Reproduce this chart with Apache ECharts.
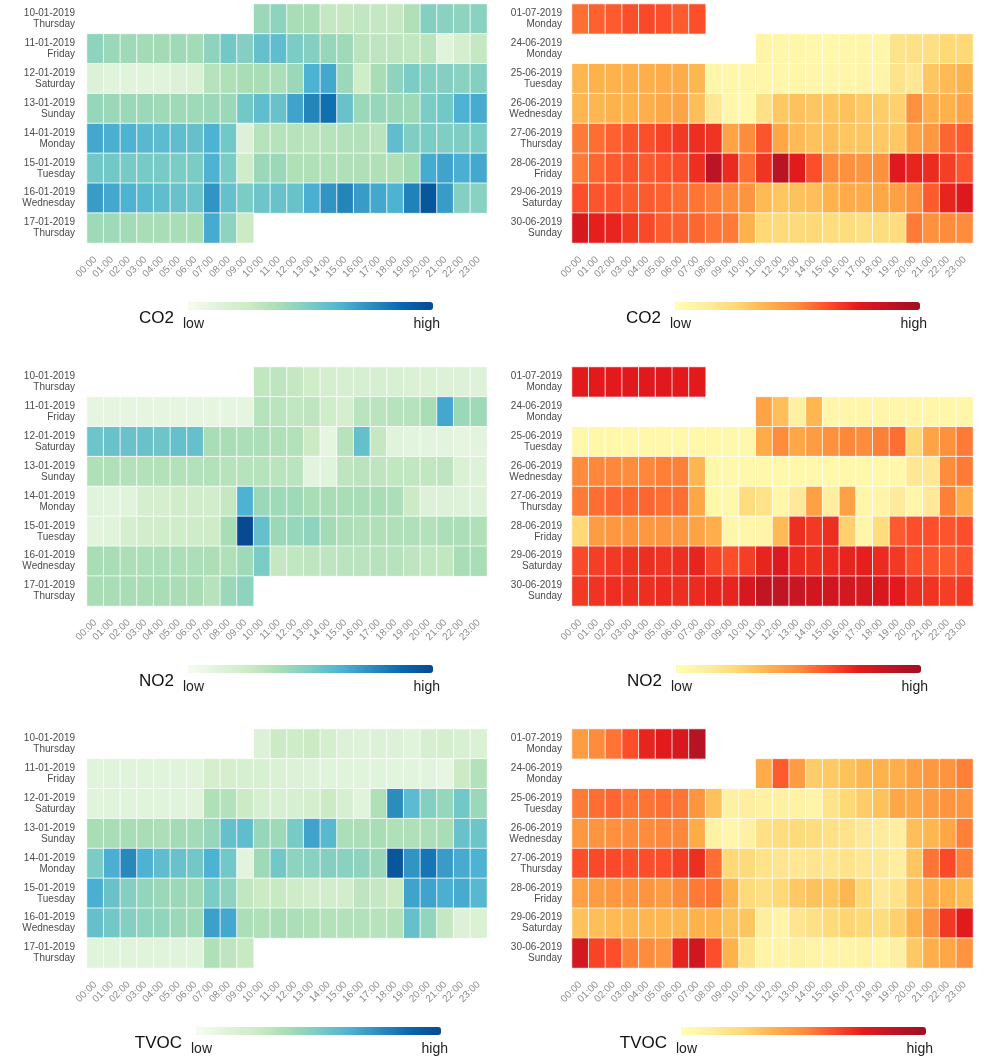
<!DOCTYPE html>
<html><head><meta charset="utf-8">
<script src="https://cdn.jsdelivr.net/npm/echarts@6/dist/echarts.min.js"></script>
<style>html,body{margin:0;padding:0;background:#fff}#c{width:987px;height:1061px}</style>
</head><body><div id="c"></div>
<script>
const _ = null;
const hours = ['00:00','01:00','02:00','03:00','04:00','05:00','06:00','07:00','08:00','09:00','10:00','11:00',
  '12:00','13:00','14:00','15:00','16:00','17:00','18:00','19:00','20:00','21:00','22:00','23:00'];
const janDays = ['10-01-2019\nThursday','11-01-2019\nFriday','12-01-2019\nSaturday','13-01-2019\nSunday',
  '14-01-2019\nMonday','15-01-2019\nTuesday','16-01-2019\nWednesday','17-01-2019\nThursday'];
const junDays = ['01-07-2019\nMonday','24-06-2019\nMonday','25-06-2019\nTuesday','26-06-2019\nWednesday',
  '27-06-2019\nThursday','28-06-2019\nFriday','29-06-2019\nSaturday','30-06-2019\nSunday'];

const co2Jan = [
  [_,_,_,_,_,_,_,_,_,_,3.3,3.6,3.0,3.0,2.2,2.2,2.3,2.2,2.2,2.8,3.8,3.7,3.6,3.7],
  [3.6,3.3,3.2,3.1,3.1,3.2,3.1,3.6,4.2,3.8,4.5,4.6,4.0,3.8,3.4,3.2,2.5,2.4,2.4,2.3,2.5,1.0,1.6,2.2],
  [1.2,1.0,1.0,1.0,1.0,1.2,1.3,2.6,2.8,3.0,3.0,2.9,3.3,5.0,5.3,3.3,1.8,3.0,3.6,4.0,3.8,3.8,3.7,3.8],
  [3.4,3.3,3.3,3.3,3.2,3.2,3.2,3.3,3.3,4.2,4.6,4.4,5.4,6.2,6.8,4.4,3.3,3.4,3.3,3.2,4.0,4.2,5.0,5.2],
  [5.3,5.1,5.0,4.8,4.7,4.6,4.5,5.0,4.2,1.2,2.6,2.6,2.6,2.5,2.6,2.7,2.7,2.5,4.6,3.9,4.0,3.9,3.9,4.0],
  [4.2,4.2,4.1,4.1,4.1,4.0,4.0,5.0,4.0,1.8,3.3,3.3,2.8,2.8,2.8,2.8,2.8,2.8,2.8,3.1,5.2,5.4,5.1,5.3],
  [5.6,5.3,5.0,4.8,4.6,4.4,4.3,5.8,4.5,4.0,4.3,4.4,4.4,5.1,5.8,6.2,5.6,5.3,5.0,6.3,7.6,5.6,3.8,3.7],
  [3.2,3.2,3.1,3.0,3.0,3.0,3.0,5.2,3.6,2.0,_,_,_,_,_,_,_,_,_,_,_,_,_,_]
];
const co2Jun = [
  [4.5,4.7,4.8,5.0,5.1,5.0,4.8,5.0,_,_,_,_,_,_,_,_,_,_,_,_,_,_,_,_],
  [_,_,_,_,_,_,_,_,_,_,_,0.6,0.5,0.5,0.4,0.4,0.5,0.5,0.5,1.5,1.6,1.7,2.0,2.0],
  [2.9,3.0,3.0,3.1,3.1,3.2,3.2,2.9,0.5,0.5,0.5,0.5,0.5,0.5,0.5,0.5,0.5,0.6,0.6,1.5,1.3,2.5,2.8,3.0],
  [2.9,2.9,3.0,3.0,3.1,3.3,3.4,2.7,1.3,0.5,0.4,1.6,2.4,2.6,2.5,2.5,2.6,2.4,2.3,2.2,3.9,3.1,3.0,3.4],
  [4.3,4.5,4.7,4.9,5.0,5.2,5.4,5.6,5.5,3.4,4.0,4.9,3.3,2.8,2.6,2.7,2.5,2.5,2.4,2.4,3.4,3.7,4.6,4.8],
  [4.3,4.6,4.8,4.9,4.8,4.9,5.0,5.6,7.0,5.7,4.5,5.5,7.1,6.0,5.0,4.0,3.9,3.8,3.9,6.1,5.8,5.7,5.3,4.9],
  [5.0,4.9,4.9,4.8,4.8,4.7,4.5,4.4,4.2,4.0,3.8,2.8,2.5,2.6,2.7,3.0,3.2,3.2,3.3,3.5,3.9,4.8,5.8,6.2],
  [6.3,5.9,5.8,5.4,5.1,4.8,4.7,4.6,4.4,4.3,3.0,2.0,1.9,1.9,2.0,1.8,1.8,1.7,1.8,1.8,4.3,3.9,4.0,4.0]
];
const no2Jan = [
  [_,_,_,_,_,_,_,_,_,_,2.3,2.4,2.2,1.8,1.6,1.5,1.5,1.5,1.4,1.3,1.3,1.2,1.2,1.1],
  [0.8,0.8,0.8,0.8,0.8,0.8,0.8,0.8,0.8,0.8,2.6,2.5,2.3,2.4,1.8,1.6,2.5,2.5,2.6,2.6,3.0,5.3,3.3,3.2],
  [4.3,4.4,4.4,4.4,4.3,4.5,4.5,3.0,3.0,2.9,2.9,2.8,2.7,2.0,0.8,2.6,4.5,2.2,1.0,0.9,0.9,0.9,0.8,0.9],
  [2.8,2.8,2.7,2.7,2.7,2.7,2.7,2.7,2.6,2.6,2.6,2.5,2.5,0.9,1.0,2.4,2.5,2.4,2.3,2.3,2.3,2.4,1.3,1.1],
  [1.0,0.9,1.0,1.6,1.6,1.8,1.8,1.7,2.2,5.0,3.3,3.2,3.2,3.0,3.0,3.0,3.0,3.0,2.9,2.0,1.2,1.2,1.1,1.1],
  [0.9,1.0,1.6,1.7,1.8,1.8,1.9,1.9,3.0,8.0,4.5,3.3,3.4,3.6,3.1,2.9,2.8,2.8,2.8,2.8,2.7,2.9,2.9,2.8],
  [3.0,3.0,2.9,2.9,2.9,2.9,2.9,2.9,2.8,3.2,4.0,2.2,2.3,2.4,2.4,2.5,2.5,2.6,2.6,2.4,2.3,2.3,3.0,3.0],
  [3.0,3.0,3.0,3.0,3.0,3.0,3.0,2.6,3.3,3.6,_,_,_,_,_,_,_,_,_,_,_,_,_,_]
];
const no2Jun = [
  [6.0,6.0,6.0,6.1,6.1,6.1,6.0,6.0,_,_,_,_,_,_,_,_,_,_,_,_,_,_,_,_],
  [_,_,_,_,_,_,_,_,_,_,_,3.4,2.7,0.8,2.9,0.5,0.5,0.5,0.5,0.5,0.5,0.5,0.5,0.5],
  [0.4,0.4,0.4,0.4,0.4,0.4,0.4,0.4,0.4,0.4,0.4,3.2,4.0,3.3,3.6,3.9,4.1,4.0,4.2,4.5,2.0,3.4,3.9,4.3],
  [4.0,4.1,4.1,4.0,4.1,4.2,4.2,2.9,0.4,0.4,0.4,0.4,0.4,0.4,0.4,0.4,0.4,0.4,0.4,0.4,1.3,1.3,4.0,4.3],
  [4.3,4.5,4.6,4.6,4.6,4.5,4.5,3.3,0.4,0.4,1.8,1.5,0.5,1.2,3.5,1.0,3.5,0.5,0.6,1.1,0.5,1.2,4.2,3.2],
  [2.0,3.6,3.7,3.8,3.7,3.8,3.7,3.4,3.1,0.5,0.5,0.6,2.8,5.6,5.4,5.6,2.2,0.5,1.8,4.8,5.0,5.0,4.9,5.0],
  [5.1,5.3,5.4,5.5,5.6,5.5,5.6,5.8,5.2,5.0,5.3,5.8,6.2,5.7,5.6,5.7,5.8,5.9,5.7,5.4,5.0,4.9,4.8,4.9],
  [5.4,5.5,5.6,5.6,5.6,5.7,5.6,5.7,5.8,5.8,6.3,6.9,6.9,6.7,6.5,6.5,6.4,6.3,6.3,6.0,5.6,5.5,5.3,5.4]
];
const tvocJan = [
  [_,_,_,_,_,_,_,_,_,_,1.2,2.0,1.9,2.0,1.6,1.2,1.1,1.2,1.2,1.0,1.5,1.6,1.4,1.3],
  [1.0,1.0,1.0,1.0,1.0,1.0,1.0,1.6,1.6,1.5,1.4,1.3,1.2,1.1,1.0,1.0,1.0,1.0,0.9,0.9,0.9,0.7,2.0,2.7],
  [1.0,1.0,1.0,1.0,1.0,1.0,1.0,2.8,2.7,2.0,1.5,1.4,1.5,1.6,2.0,1.5,1.0,2.8,6.0,4.7,3.8,3.4,4.2,3.3],
  [3.0,3.0,3.0,3.0,2.9,3.1,3.1,3.4,4.5,4.6,3.4,3.2,4.1,5.4,4.8,2.9,2.9,3.0,2.8,2.8,2.9,3.0,4.4,4.3],
  [4.0,5.1,6.1,5.0,4.6,4.4,4.2,5.0,4.2,0.9,3.2,4.2,3.6,3.7,3.8,3.7,3.6,3.3,7.6,5.8,6.6,5.6,5.2,5.0],
  [5.1,4.4,3.8,3.5,3.3,3.3,3.2,4.0,3.6,2.3,2.0,2.1,1.9,1.7,1.7,1.7,2.4,2.2,2.0,5.4,5.4,5.1,5.2,4.8],
  [4.5,4.2,3.8,3.6,3.5,3.3,3.2,5.5,5.3,2.9,2.8,3.0,2.9,2.8,2.7,2.7,2.7,2.6,2.7,4.5,3.5,2.2,1.2,1.3],
  [1.0,1.0,1.0,1.0,1.0,1.0,1.0,2.8,2.4,2.1,_,_,_,_,_,_,_,_,_,_,_,_,_,_]
];
const tvocJun = [
  [3.6,4.0,4.4,5.0,5.8,6.0,6.3,7.2,_,_,_,_,_,_,_,_,_,_,_,_,_,_,_,_],
  [_,_,_,_,_,_,_,_,_,_,_,3.2,4.8,3.6,2.3,2.4,2.6,2.9,3.0,3.1,3.5,3.7,3.8,4.2],
  [4.3,4.5,4.6,4.4,4.4,4.5,4.4,3.8,2.6,0.8,1.0,0.8,0.8,0.7,0.6,1.5,2.0,2.3,2.6,3.3,3.3,3.6,3.8,3.8],
  [3.7,3.8,3.9,4.0,4.0,4.1,4.1,3.2,0.7,0.5,0.8,1.6,1.8,1.9,1.8,1.6,1.5,1.2,1.1,1.0,2.7,2.9,3.3,4.2],
  [5.0,5.1,5.1,5.0,5.0,5.0,5.3,5.6,4.5,2.0,1.9,1.5,1.4,1.3,1.4,1.4,1.5,1.3,1.2,1.0,2.5,4.4,5.1,4.2],
  [3.5,3.6,3.7,3.8,3.8,3.6,4.0,4.3,4.4,3.0,1.9,1.7,2.0,2.4,2.6,2.5,2.9,2.0,1.2,1.5,2.6,3.1,3.0,2.8],
  [2.6,2.7,2.8,2.9,2.9,2.9,2.9,3.0,3.0,2.6,2.5,1.0,0.6,1.4,1.6,1.9,2.1,2.0,1.8,2.2,3.0,4.0,5.4,6.0],
  [6.4,5.2,5.0,4.2,4.0,3.8,5.8,6.5,5.0,3.0,1.5,0.6,0.6,0.8,0.6,0.6,0.6,0.7,0.5,0.9,2.4,3.1,3.3,3.8]
];

const GNBU = ['#f7fcf0','#e0f3db','#ccebc5','#a8ddb5','#7bccc4','#4eb3d3','#2b8cbe','#0868ac','#084a91'];
const YLORRD = ['#ffffb2','#ffeda0','#fed976','#feb24c','#fd8d3c','#fc4e2a','#e31a1c','#bc1424','#a10f20'];

const panels = [
  {values: co2Jan, days: janDays, colors: GNBU, name: 'CO2', col: 0, row: 0},
  {values: co2Jun, days: junDays, colors: YLORRD, name: 'CO2', col: 1, row: 0},
  {values: no2Jan, days: janDays, colors: GNBU, name: 'NO2', col: 0, row: 1},
  {values: no2Jun, days: junDays, colors: YLORRD, name: 'NO2', col: 1, row: 1},
  {values: tvocJan, days: janDays, colors: GNBU, name: 'TVOC', col: 0, row: 2},
  {values: tvocJun, days: junDays, colors: YLORRD, name: 'TVOC', col: 1, row: 2}
];

const FONT = "'Liberation Sans', Arial, sans-serif";
const gridLeft = [87, 572], gridWidth = [400, 401];
const gridTop = [4, 367, 729], gridH = 239;
const barLeft = [[188, 675], [188, 676], [196, 681]];
const barTop = [302, 665, 1027];
const barLen = 245;

const option = {
  animation: false,
  backgroundColor: '#fff',
  grid: [], xAxis: [], yAxis: [], series: [], visualMap: [], graphic: []
};

panels.forEach((p, i) => {
  option.grid.push({left: gridLeft[p.col], width: gridWidth[p.col], top: gridTop[p.row], height: gridH});
  option.xAxis.push({
    type: 'category', gridIndex: i, data: hours, splitArea: {show: false},
    axisLine: {show: false}, axisTick: {show: false},
    axisLabel: {rotate: 45, fontSize: 10, color: '#8a8a8a', margin: 15, interval: 0, fontFamily: FONT}
  });
  option.yAxis.push({
    type: 'category', gridIndex: i, data: p.days, inverse: true,
    axisLine: {show: false}, axisTick: {show: false},
    axisLabel: {fontSize: 10, color: '#4a4a4a', lineHeight: 11, margin: p.col === 0 ? 12 : 10, interval: 0, fontFamily: FONT}
  });
  const data = [];
  p.values.forEach((row, r) => row.forEach((v, c) => { if (v !== null) data.push([c, r, v]); }));
  option.series.push({
    type: 'heatmap', xAxisIndex: i, yAxisIndex: i, data: data,
    itemStyle: {borderColor: '#ffffff', borderWidth: 0.8},
    emphasis: {disabled: true}
  });
  const bl = barLeft[p.row][p.col], bt = barTop[p.row];
  option.visualMap.push({
    type: 'continuous', seriesIndex: i, min: 0, max: 8, orient: 'horizontal',
    left: bl, top: bt, itemWidth: 8, itemHeight: barLen, padding: 0,
    calculable: false, hoverLink: false, text: null, showLabel: false,
    inRange: {color: p.colors}
  });
  option.graphic.push(
    {type: 'text', x: bl - 14, y: bt + 8, style: {text: p.name, font: '17px ' + FONT, fill: '#111', textAlign: 'right', textVerticalAlign: 'top'}},
    {type: 'text', x: bl - 5, y: bt + 15, style: {text: 'low', font: '14px ' + FONT, fill: '#222', textAlign: 'left', textVerticalAlign: 'top'}},
    {type: 'text', x: bl + barLen + 7, y: bt + 15, style: {text: 'high', font: '14px ' + FONT, fill: '#222', textAlign: 'right', textVerticalAlign: 'top'}}
  );
});

const chart = echarts.init(document.getElementById('c'), null, {renderer: 'canvas'});
chart.setOption(option);
</script>
</body></html>
